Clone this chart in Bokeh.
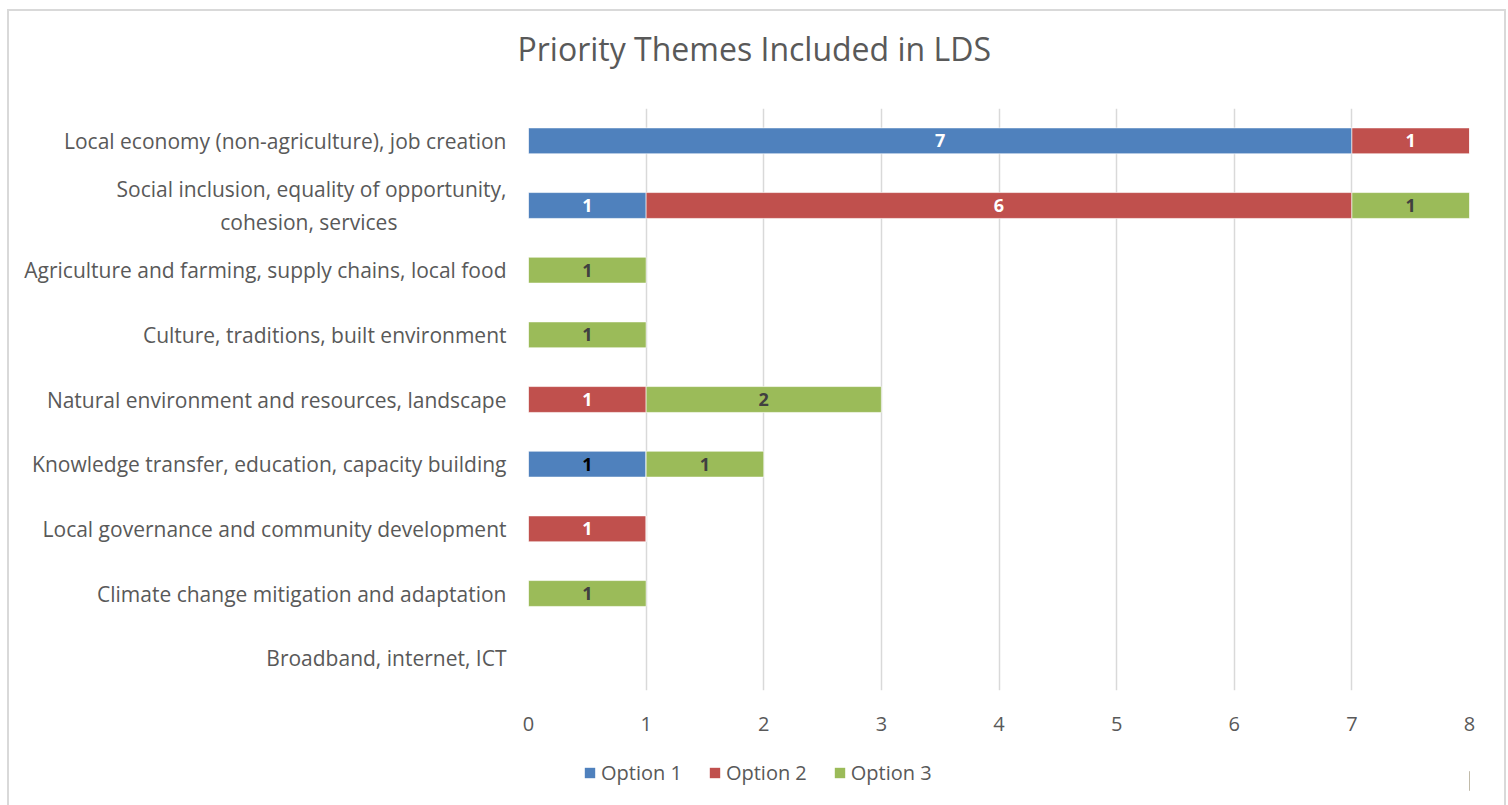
from bokeh.plotting import figure
from bokeh.layouts import column
from bokeh.models import (ColumnDataSource, FactorRange, Range1d, FixedTicker,
                          Legend, LegendItem)
from bokeh.core.properties import value
from bokeh.embed import file_html
from bokeh.resources import INLINE

# ---------------- data ----------------
categories = [
    "Local economy (non-agriculture), job creation",
    "Social inclusion, equality of opportunity,\ncohesion, services" + "\u00a0" * 20,
    "Agriculture and farming, supply chains, local food",
    "Culture, traditions, built environment",
    "Natural environment and resources, landscape",
    "Knowledge transfer, education, capacity building",
    "Local governance and community development",
    "Climate change mitigation and adaptation",
    "Broadband, internet, ICT",
]
option1 = [7, 1, 0, 0, 0, 1, 0, 0, 0]
option2 = [1, 6, 0, 0, 1, 0, 1, 0, 0]
option3 = [0, 1, 1, 1, 2, 1, 0, 1, 0]
series_names = ["Option 1", "Option 2", "Option 3"]
x_ticks = [0, 1, 2, 3, 4, 5, 6, 7, 8]
title_text = "Priority Themes Included in LDS"

# ---------------- style ----------------
FONT = "Open Sans"
colors = ["#4F81BD", "#C0504D", "#9BBB59"]
label_colors = ["#FFFFFF", "#FFFFFF", "#404040"]
TEXT = "#595959"

source = ColumnDataSource(dict(cat=categories, o1=option1, o2=option2, o3=option3))

p = figure(
    y_range=FactorRange(factors=list(reversed(categories)), range_padding=0),
    x_range=Range1d(0, 8),
    width=1495, height=745,
    min_border_left=519, min_border_right=35, min_border_top=97, min_border_bottom=66,
    output_backend="svg", toolbar_location=None,
    background_fill_color="white", border_fill_color="white",
    title=title_text + "\n",
)
p.outline_line_color = None

renderers = p.hbar_stack(["o1", "o2", "o3"], y="cat", height=0.4, color=colors,
                         line_color="white", line_width=0.6, source=source)

# data labels
lx, ly, lt, lc = [], [], [], []
series = [option1, option2, option3]
for i, cat in enumerate(categories):
    left = 0
    for s, vals in enumerate(series):
        v = vals[i]
        if v > 0:
            lx.append(left + v / 2)
            ly.append(cat)
            lt.append(str(v))
            col = label_colors[s]
            if s == 0 and cat.startswith("Knowledge"):
                col = "#000000"
            lc.append(col)
        left += v
p.text(x=lx, y=ly, text=lt, text_color=lc, text_align="center", text_baseline="middle",
       text_font=value(FONT), text_font_style="bold", text_font_size="18px")

# axes
p.xaxis.ticker = FixedTicker(ticks=x_ticks)
p.xaxis.axis_line_color = None
p.xaxis.major_tick_line_color = None
p.xaxis.minor_tick_line_color = None
p.xaxis.major_label_text_font = FONT
p.xaxis.major_label_text_font_size = "20px"
p.xaxis.major_label_text_color = TEXT
p.xaxis.major_label_standoff = 20

p.yaxis.axis_line_color = None
p.yaxis.major_tick_line_color = None
p.yaxis.minor_tick_line_color = None
p.yaxis.major_label_text_font = FONT
p.yaxis.major_label_text_font_size = "21px"
p.yaxis.major_label_text_color = TEXT
p.yaxis.major_label_standoff = 16

p.xgrid.grid_line_color = "#D9D9D9"
p.xgrid.grid_line_width = 1.5
p.ygrid.grid_line_color = None

# title
p.title.text_font = FONT
p.title.text_font_size = "32px"
p.title.text_font_style = "normal"
p.title.text_color = TEXT
p.title.align = "left"
p.title.offset = -11
p.title.standoff = 0
p.title.text_line_height = 0.9

# legend strip (separate small figure holding the real legend)
lg = figure(width=1495, height=49, x_range=Range1d(0, 1), y_range=Range1d(0, 1),
            min_border=0, output_backend="svg", toolbar_location=None,
            background_fill_color="white", border_fill_color="white")
lg.axis.visible = False
lg.grid.visible = False
lg.outline_line_color = None
# swatch renderers placed far outside the visible range (only used by the legend)
swatches = [lg.hbar(y=[0.5], left=[10], right=[11], height=0.4, fill_color=c, line_color=None)
            for c in colors]
legend = Legend(items=[LegendItem(label=n, renderers=[r]) for n, r in zip(series_names, swatches)],
                orientation="horizontal", location=(55, 19),
                glyph_width=13, glyph_height=13, label_standoff=5, spacing=26,
                padding=0, margin=0, border_line_color=None, background_fill_alpha=0,
                label_text_font=FONT, label_text_font_size="20px", label_text_color=TEXT)
lg.add_layout(legend, "center")

layout = column(p, lg, spacing=0)
layout.styles = {"border-top": "2px solid #D9D9D9", "border-left": "2px solid #D9D9D9",
                 "border-right": "2px solid #D9D9D9", "margin-left": "7px", "margin-top": "9px"}

open("out.html", "w").write(file_html(layout, INLINE))
